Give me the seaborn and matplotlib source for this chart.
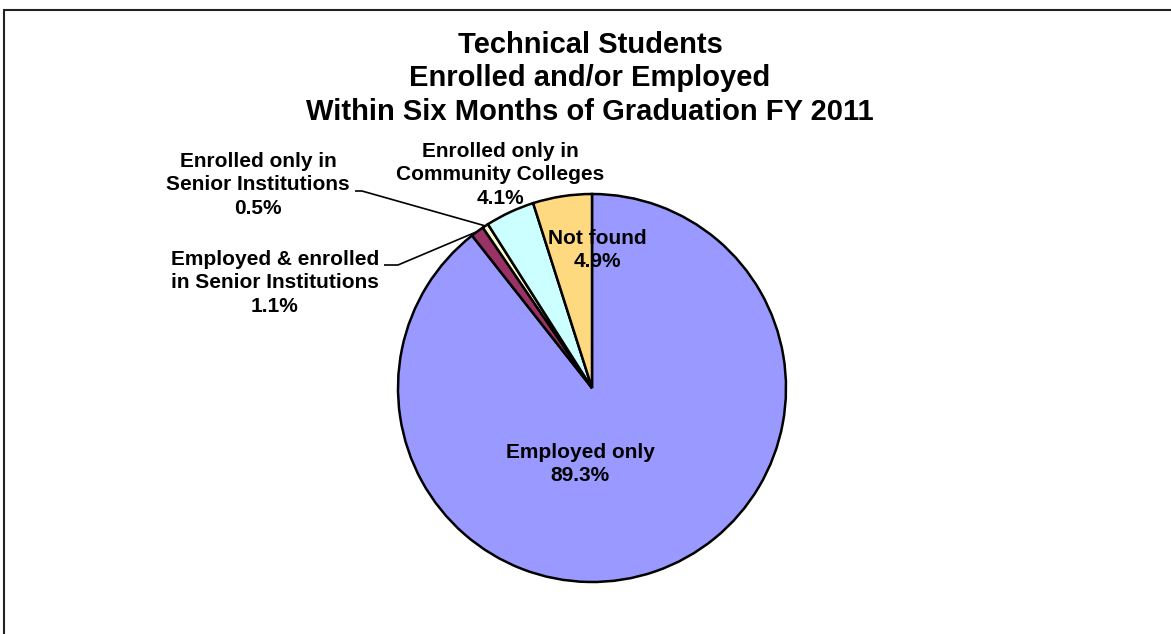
import matplotlib
matplotlib.use("Agg")
import matplotlib.pyplot as plt
import seaborn as sns
import numpy as np
from matplotlib.patches import Rectangle

sns.set_theme(style="white")
plt.rcParams["font.family"] = ["Liberation Sans", "DejaVu Sans"]
plt.rcParams["text.color"] = "black"

# Outcome categories and their shares (percent)
categories = [
    "Employed only",
    "Employed & enrolled\nin Senior Institutions",
    "Enrolled only in\nSenior Institutions",
    "Enrolled only in\nCommunity Colleges",
    "Not found",
]
shares = [89.3, 1.1, 0.5, 4.1, 4.9]
colors = ["#9999FF", "#993366", "#FFFFCC", "#CCFFFF", "#FFD980"]
title_lines = [
    "Technical Students",
    "Enrolled and/or Employed",
    "Within Six Months of Graduation FY 2011",
]

W, H = 1171, 634
fig = plt.figure(figsize=(W / 100, H / 100), dpi=100)
ax = fig.add_axes([0, 0, 1, 1])
ax.set_xlim(0, W)
ax.set_ylim(0, H)
ax.set_aspect("equal")
ax.axis("off")

# chart frame
ax.add_patch(Rectangle((3.5, -20), W + 40, H - 9.5 + 20, fill=False,
                       edgecolor="#222222", linewidth=1.5, zorder=0))

cx, cy, r = 592, H - 388, 194
wedges, _ = ax.pie(shares, colors=colors, startangle=90, counterclock=False,
                   center=(cx, cy), radius=r,
                   wedgeprops=dict(edgecolor="black", linewidth=1.8))
ax.set_xlim(0, W)
ax.set_ylim(0, H)

fs = 15
ls = 1.32
for i, line in enumerate(title_lines):
    ax.text(590, H - (45 + 33.5 * i), line, ha="center", va="center",
            fontsize=21, fontweight="bold", color="black")

def label_text(i):
    return f"{categories[i]}\n{shares[i]:.1f}%"

def put(x, y, i):
    ax.text(x, H - y, label_text(i), ha="center", va="center", color="black",
            fontsize=fs, fontweight="bold", linespacing=ls)

# labels inside the wedges
put(580, 464, 0)
put(597, 250, 4)
# labels outside
put(500, 175, 3)
put(258, 185, 2)
put(275, 283, 1)

# leader lines from labels to the small wedges' outer arcs
def arc_point(w):
    mid = np.deg2rad((w.theta1 + w.theta2) / 2)
    return cx + r * np.cos(mid), cy + r * np.sin(mid)

for w, start, elbow in [(wedges[2], (355, H - 191), (362, H - 191)),
                        (wedges[1], (384, H - 265), (398, H - 265))]:
    px, py = arc_point(w)
    ax.plot([start[0], elbow[0], px], [start[1], elbow[1], py],
            color="black", linewidth=1.2, solid_capstyle="butt")

fig.savefig("out.png", dpi=100)
